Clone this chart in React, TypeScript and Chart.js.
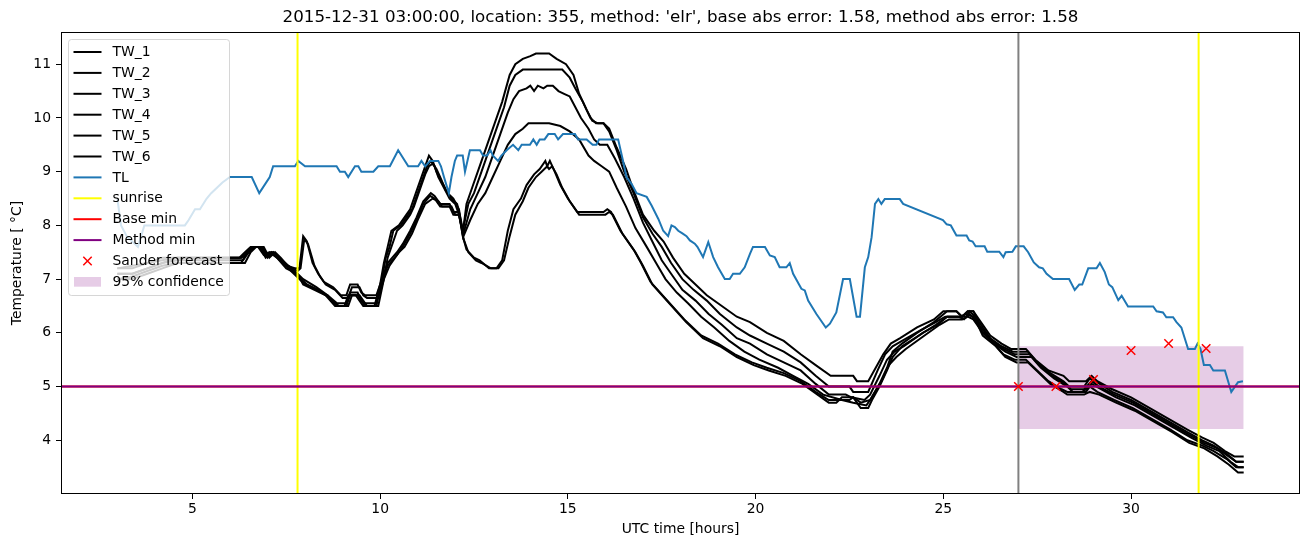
import React, { useEffect, useRef } from 'react';
import { Chart, registerables } from 'chart.js';

Chart.register(...registerables);
Chart.defaults.font.family = "'DejaVu Sans', sans-serif";

const TITLE = "2015-12-31 03:00:00, location: 355, method: 'elr', base abs error: 1.58, method abs error: 1.58";
const X_LABEL = 'UTC time [hours]';
const Y_LABEL = 'Temperature [ °C]';

const X_MIN = 1.5;
const X_MAX = 34.5;
const Y_MIN = 3.0;
const Y_MAX = 11.6;
const X_TICKS = [5, 10, 15, 20, 25, 30];
const Y_TICKS = [4, 5, 6, 7, 8, 9, 10, 11];

const SUNRISE_X = [7.8, 31.8];
const FORECAST_START_X = 27.0;
const BASE_MIN = 5.0;
const METHOD_MIN = 5.0;
const SANDER_X = [27, 28, 29, 30, 31, 32];
const SANDER_Y = [5.0, 5.0, 5.13, 5.67, 5.8, 5.71];
const CONF_X = [27, 33];
const CONF_LOW = 4.21;
const CONF_HIGH = 5.75;

type P = [number, number][];

const TW_1: P = [[3,7.0],[3.4,7.0],[3.8,7.1],[4.2,7.2],[4.6,7.3],[6.3,7.3],[6.45,7.5],[6.6,7.6],[6.8,7.6],[6.95,7.4],[7.1,7.5],[7.25,7.4],[7.5,7.2],[7.8,7.1],[7.95,6.9],[8.25,6.8],[8.55,6.7],[8.8,6.5],[9.05,6.5],[9.15,6.7],[9.35,6.7],[9.45,6.6],[9.55,6.5],[9.85,6.5],[10.0,6.9],[10.1,7.3],[10.2,7.6],[10.3,7.9],[10.5,8.0],[10.7,8.2],[10.8,8.3],[10.95,8.6],[11.1,8.9],[11.2,9.1],[11.3,9.3],[11.4,9.2],[11.5,9.0],[11.65,8.8],[11.8,8.6],[11.95,8.5],[12.1,8.3],[12.2,7.85],[12.3,8.4],[12.45,8.7],[12.65,9.1],[12.85,9.5],[13.05,9.9],[13.25,10.3],[13.45,10.8],[13.6,11.0],[13.8,11.1],[14.0,11.15],[14.15,11.2],[14.5,11.2],[14.7,11.1],[14.95,11.0],[15.15,10.8],[15.3,10.45],[15.5,10.15],[15.65,9.95],[15.8,9.9],[15.95,9.9],[16.1,9.8],[16.3,9.45],[16.55,9.05],[16.75,8.65],[17.0,8.2],[17.3,7.9],[17.55,7.7],[17.8,7.4],[18.1,7.1],[18.4,6.9],[18.7,6.7],[19.1,6.5],[19.5,6.3],[19.85,6.2],[20.3,6.0],[20.75,5.85],[21.2,5.6],[21.6,5.4],[22.0,5.2],[22.6,5.2],[22.7,5.1],[23.0,5.1],[23.2,5.35],[23.4,5.6],[23.6,5.8],[23.85,5.9],[24.3,6.1],[24.75,6.25],[25.0,6.4],[25.35,6.4],[25.5,6.3],[25.65,6.4],[25.8,6.4],[26.0,6.2],[26.25,5.95],[26.55,5.8],[26.8,5.7],[27.2,5.7],[27.45,5.5],[27.8,5.3],[28.2,5.2],[28.35,5.1],[28.8,5.1],[28.95,5.2],[29.1,5.1],[29.5,4.95],[30.0,4.8],[30.5,4.6],[31.0,4.4],[31.5,4.2],[31.9,4.05],[32.2,3.95],[32.5,3.8],[32.75,3.7],[33.0,3.7]];

const TW_2: P = [[3,7.1],[3.4,7.1],[3.8,7.2],[4.2,7.3],[4.6,7.35],[6.35,7.35],[6.5,7.5],[6.65,7.6],[6.85,7.6],[7.0,7.4],[7.15,7.5],[7.3,7.4],[7.55,7.2],[7.85,7.0],[8.0,6.9],[8.3,6.8],[8.6,6.7],[8.85,6.5],[9.1,6.5],[9.2,6.7],[9.4,6.7],[9.5,6.6],[9.6,6.5],[9.9,6.5],[10.05,7.0],[10.15,7.4],[10.25,7.6],[10.35,7.9],[10.55,8.0],[10.75,8.2],[10.85,8.3],[11.0,8.6],[11.15,8.9],[11.25,9.1],[11.35,9.2],[11.45,9.1],[11.55,8.9],[11.7,8.7],[11.85,8.5],[12.0,8.4],[12.1,8.2],[12.2,7.9],[12.35,8.4],[12.5,8.6],[12.7,9.0],[12.9,9.4],[13.1,9.8],[13.3,10.2],[13.45,10.6],[13.6,10.8],[13.8,10.9],[14.6,10.9],[14.85,10.9],[15.05,10.75],[15.2,10.55],[15.4,10.3],[15.6,10.0],[15.75,9.9],[15.95,9.9],[16.1,9.75],[16.3,9.4],[16.5,9.0],[16.75,8.6],[17.0,8.15],[17.25,7.85],[17.5,7.6],[17.75,7.3],[18.05,7.0],[18.35,6.8],[18.7,6.6],[19.05,6.35],[19.5,6.1],[19.85,5.95],[20.3,5.8],[20.75,5.65],[21.2,5.45],[21.6,5.2],[21.95,5.0],[22.5,5.0],[22.6,4.9],[23.0,4.9],[23.25,5.3],[23.45,5.6],[23.65,5.75],[23.9,5.85],[24.4,6.05],[24.8,6.2],[25.05,6.3],[25.5,6.3],[25.65,6.4],[25.8,6.4],[25.95,6.2],[26.25,5.9],[26.55,5.75],[26.85,5.65],[27.25,5.65],[27.5,5.45],[27.85,5.25],[28.2,5.1],[28.35,5.0],[28.75,5.0],[28.9,5.15],[29.05,5.1],[29.5,4.9],[30.0,4.75],[30.5,4.55],[31.0,4.35],[31.5,4.15],[31.9,4.0],[32.2,3.9],[32.55,3.75],[32.8,3.6],[33.0,3.6]];

const TW_3: P = [[3,7.0],[3.4,7.05],[3.8,7.15],[4.2,7.25],[4.6,7.3],[6.4,7.3],[6.55,7.5],[6.7,7.6],[6.9,7.6],[7.05,7.4],[7.2,7.5],[7.35,7.4],[7.6,7.2],[7.9,7.0],[8.05,6.9],[8.35,6.8],[8.65,6.65],[8.9,6.5],[9.15,6.5],[9.25,6.7],[9.45,6.7],[9.55,6.6],[9.65,6.5],[9.95,6.5],[10.1,7.0],[10.2,7.4],[10.35,7.7],[10.45,7.9],[10.6,8.0],[10.8,8.2],[10.9,8.35],[11.05,8.65],[11.2,8.95],[11.3,9.1],[11.4,9.15],[11.5,9.05],[11.6,8.9],[11.75,8.65],[11.9,8.5],[12.05,8.4],[12.15,8.1],[12.22,7.85],[12.4,8.3],[12.6,8.6],[12.8,8.9],[13.0,9.3],[13.2,9.7],[13.4,10.1],[13.55,10.35],[13.7,10.5],[13.9,10.55],[14.0,10.6],[14.1,10.5],[14.2,10.6],[14.35,10.55],[14.45,10.6],[14.6,10.6],[14.75,10.5],[14.9,10.45],[15.05,10.4],[15.2,10.2],[15.35,10.0],[15.55,9.8],[15.7,9.6],[15.85,9.5],[16.05,9.5],[16.25,9.25],[16.5,8.9],[16.75,8.5],[17.0,8.05],[17.25,7.7],[17.5,7.35],[17.75,7.1],[18.05,6.8],[18.4,6.6],[18.75,6.35],[19.1,6.15],[19.5,5.9],[19.85,5.8],[20.3,5.6],[20.75,5.45],[21.2,5.3],[21.6,5.05],[21.95,4.85],[22.4,4.85],[22.55,4.8],[22.9,4.75],[23.05,4.85],[23.3,5.2],[23.5,5.5],[23.7,5.65],[23.95,5.75],[24.45,6.0],[24.85,6.15],[25.1,6.3],[25.45,6.3],[25.6,6.35],[25.8,6.3],[26.0,6.1],[26.3,5.85],[26.6,5.7],[26.9,5.6],[27.3,5.6],[27.55,5.4],[27.9,5.2],[28.25,5.05],[28.4,4.95],[28.75,4.95],[28.95,5.1],[29.15,5.0],[29.55,4.85],[30.05,4.7],[30.55,4.5],[31.05,4.3],[31.55,4.1],[31.95,3.95],[32.3,3.85],[32.6,3.7],[32.8,3.6],[33.0,3.6]];

const TW_4: P = [[3,7.1],[3.4,7.1],[3.8,7.2],[4.2,7.3],[4.6,7.4],[6.3,7.4],[6.5,7.5],[6.65,7.6],[6.85,7.6],[7.0,7.45],[7.15,7.5],[7.3,7.4],[7.55,7.25],[7.8,7.1],[7.95,7.0],[8.3,6.85],[8.6,6.7],[8.85,6.55],[9.1,6.55],[9.2,6.75],[9.4,6.75],[9.5,6.6],[9.6,6.55],[9.9,6.55],[10.05,6.95],[10.2,7.25],[10.45,7.45],[10.6,7.6],[10.8,7.85],[10.97,8.1],[11.15,8.4],[11.33,8.55],[11.45,8.5],[11.6,8.35],[11.85,8.35],[11.95,8.2],[12.1,8.2],[12.22,7.8],[12.4,8.1],[12.6,8.4],[12.8,8.6],[13.0,8.9],[13.2,9.2],[13.4,9.5],[13.6,9.7],[13.8,9.8],[13.95,9.9],[14.5,9.9],[14.8,9.85],[15.05,9.75],[15.3,9.6],[15.55,9.3],[15.7,9.2],[15.9,9.1],[16.1,9.0],[16.3,8.7],[16.55,8.35],[16.8,7.95],[17.1,7.6],[17.35,7.3],[17.6,7.0],[17.9,6.75],[18.2,6.55],[18.55,6.3],[18.9,6.1],[19.3,5.85],[19.7,5.65],[20.1,5.5],[20.6,5.35],[21.0,5.2],[21.4,5.05],[21.8,4.85],[22.3,4.75],[22.6,4.7],[22.95,4.65],[23.1,4.8],[23.35,5.1],[23.55,5.4],[23.75,5.55],[24.0,5.7],[24.5,5.95],[24.9,6.15],[25.15,6.25],[25.5,6.25],[25.65,6.3],[25.8,6.25],[26.0,6.05],[26.35,5.8],[26.65,5.65],[26.95,5.55],[27.35,5.55],[27.6,5.35],[27.95,5.15],[28.3,5.0],[28.45,4.9],[28.8,4.9],[28.95,5.05],[29.2,4.95],[29.6,4.8],[30.1,4.65],[30.6,4.45],[31.1,4.25],[31.6,4.05],[32.0,3.9],[32.35,3.8],[32.65,3.6],[32.85,3.5],[33.0,3.5]];

const TW_5: P = [[3,7.2],[3.4,7.2],[3.8,7.3],[4.2,7.35],[4.6,7.4],[6.25,7.4],[6.4,7.5],[6.55,7.6],[6.75,7.6],[6.9,7.45],[7.05,7.5],[7.25,7.4],[7.5,7.25],[7.75,7.2],[7.85,7.2],[7.95,7.8],[8.05,7.7],[8.2,7.3],[8.35,7.1],[8.5,6.95],[8.75,6.85],[8.95,6.7],[9.1,6.7],[9.2,6.9],[9.4,6.9],[9.5,6.75],[9.6,6.7],[9.9,6.7],[10.05,7.0],[10.2,7.3],[10.45,7.5],[10.6,7.65],[10.8,7.9],[10.97,8.15],[11.15,8.45],[11.35,8.6],[11.45,8.55],[11.6,8.4],[11.85,8.4],[11.95,8.25],[12.1,8.25],[12.2,7.8],[12.3,7.55],[12.5,7.4],[12.65,7.35],[12.9,7.2],[13.1,7.2],[13.25,7.35],[13.4,7.9],[13.55,8.3],[13.75,8.5],[13.9,8.75],[14.1,8.95],[14.25,9.05],[14.4,9.2],[14.45,9.1],[14.52,9.2],[14.65,9.0],[14.8,8.75],[15.0,8.5],[15.25,8.25],[15.95,8.25],[16.05,8.3],[16.15,8.25],[16.4,7.9],[16.75,7.55],[16.95,7.3],[17.2,6.95],[17.65,6.6],[18.1,6.25],[18.55,5.95],[19.0,5.8],[19.45,5.6],[19.9,5.45],[20.3,5.35],[20.75,5.25],[21.2,5.1],[21.6,4.9],[21.95,4.75],[22.5,4.75],[22.6,4.8],[22.8,4.7],[23.05,4.75],[23.3,5.05],[23.5,5.35],[23.65,5.65],[23.9,5.8],[24.3,6.0],[24.75,6.2],[25.1,6.4],[25.35,6.4],[25.5,6.3],[25.6,6.3],[25.7,6.4],[25.85,6.3],[26.05,6.0],[26.35,5.8],[26.6,5.6],[26.9,5.5],[27.2,5.5],[27.5,5.3],[27.8,5.1],[28.15,4.95],[28.3,4.9],[28.7,4.9],[28.9,5.0],[29.1,4.9],[29.55,4.75],[30.05,4.6],[30.55,4.4],[31.05,4.2],[31.5,4.0],[31.9,3.9],[32.2,3.8],[32.55,3.65],[32.8,3.5],[33.0,3.5]];

const TW_6: P = [[3,7.2],[3.4,7.25],[3.8,7.3],[4.2,7.4],[4.6,7.4],[6.3,7.4],[6.45,7.5],[6.6,7.6],[6.8,7.6],[6.95,7.45],[7.1,7.5],[7.3,7.4],[7.55,7.25],[7.8,7.15],[7.88,7.2],[7.98,7.75],[8.08,7.65],[8.25,7.25],[8.4,7.05],[8.55,6.9],[8.8,6.8],[9.0,6.65],[9.15,6.65],[9.25,6.85],[9.45,6.85],[9.55,6.7],[9.65,6.65],[9.95,6.65],[10.1,7.0],[10.25,7.25],[10.5,7.5],[10.65,7.6],[10.85,7.85],[11.0,8.1],[11.2,8.4],[11.4,8.5],[11.55,8.45],[11.65,8.35],[11.9,8.35],[12.0,8.2],[12.1,8.2],[12.22,7.75],[12.35,7.5],[12.55,7.35],[12.7,7.3],[12.95,7.2],[13.15,7.2],[13.3,7.35],[13.45,7.8],[13.6,8.2],[13.8,8.45],[13.95,8.7],[14.15,8.9],[14.3,9.0],[14.45,9.1],[14.5,9.05],[14.58,9.1],[14.7,8.95],[14.85,8.7],[15.05,8.45],[15.3,8.2],[16.0,8.2],[16.1,8.25],[16.2,8.2],[16.45,7.85],[16.8,7.5],[17.0,7.25],[17.25,6.9],[17.7,6.55],[18.15,6.2],[18.6,5.9],[19.05,5.75],[19.5,5.55],[19.95,5.4],[20.35,5.3],[20.8,5.2],[21.25,5.05],[21.65,4.85],[21.95,4.7],[22.15,4.7],[22.3,4.8],[22.6,4.8],[22.8,4.6],[23.0,4.6],[23.1,4.75],[23.3,5.0],[23.5,5.3],[23.65,5.55],[23.9,5.75],[24.35,5.95],[24.8,6.15],[25.1,6.3],[25.4,6.3],[25.55,6.25],[25.7,6.35],[25.85,6.25],[26.05,5.95],[26.4,5.75],[26.65,5.55],[26.95,5.45],[27.25,5.45],[27.55,5.25],[27.85,5.05],[28.2,4.9],[28.3,4.85],[28.75,4.85],[28.9,4.9],[29.15,4.85],[29.6,4.7],[30.1,4.55],[30.6,4.35],[31.1,4.15],[31.55,3.95],[31.95,3.85],[32.3,3.7],[32.6,3.55],[32.85,3.4],[33.0,3.4]];

const TL: P = [[3.0,8.5],[3.1,8.0],[3.25,7.8],[3.55,7.6],[3.72,8.0],[4.5,8.0],[4.8,8.0],[4.9,8.1],[5.07,8.3],[5.2,8.3],[5.38,8.5],[5.5,8.6],[5.8,8.8],[6.0,8.9],[6.58,8.9],[6.78,8.6],[7.06,8.9],[7.15,9.1],[7.73,9.1],[7.82,9.2],[8.0,9.1],[8.84,9.1],[8.93,9.0],[9.06,9.0],[9.15,8.9],[9.33,9.1],[9.42,9.1],[9.5,9.0],[9.82,9.0],[9.95,9.1],[10.26,9.1],[10.48,9.4],[10.75,9.1],[11.01,9.1],[11.1,9.2],[11.2,9.1],[11.33,9.2],[11.55,9.2],[11.62,9.1],[11.7,8.9],[11.83,8.6],[11.9,8.9],[11.99,9.2],[12.05,9.3],[12.2,9.3],[12.26,9.0],[12.39,9.4],[12.66,9.4],[12.74,9.3],[12.85,9.3],[12.94,9.4],[13.0,9.3],[13.14,9.2],[13.23,9.3],[13.37,9.4],[13.54,9.5],[13.68,9.4],[13.77,9.5],[13.99,9.5],[14.08,9.6],[14.17,9.5],[14.25,9.6],[14.38,9.6],[14.48,9.7],[14.65,9.7],[14.74,9.6],[14.87,9.7],[15.19,9.7],[15.27,9.6],[15.5,9.6],[15.66,9.5],[15.76,9.5],[15.83,9.6],[16.34,9.6],[16.47,9.2],[16.56,8.9],[16.7,8.77],[16.83,8.6],[17.1,8.53],[17.23,8.37],[17.41,8.12],[17.54,7.9],[17.67,7.8],[17.76,8.0],[17.85,7.97],[17.94,7.9],[18.05,7.85],[18.16,7.8],[18.25,7.72],[18.38,7.66],[18.45,7.6],[18.6,7.41],[18.74,7.69],[18.87,7.41],[19.0,7.22],[19.18,7.0],[19.31,7.0],[19.4,7.1],[19.58,7.1],[19.71,7.22],[19.85,7.47],[19.93,7.6],[20.25,7.6],[20.38,7.44],[20.51,7.41],[20.64,7.22],[20.82,7.22],[20.91,7.3],[21.0,7.1],[21.22,6.82],[21.31,6.79],[21.4,6.6],[21.62,6.35],[21.87,6.1],[21.98,6.17],[22.15,6.38],[22.33,7.0],[22.51,7.0],[22.69,6.3],[22.78,6.3],[22.91,7.22],[23.0,7.41],[23.09,7.78],[23.18,8.4],[23.27,8.49],[23.35,8.4],[23.44,8.49],[23.84,8.49],[23.93,8.4],[24.99,8.1],[25.09,8.02],[25.2,8.0],[25.35,7.81],[25.62,7.81],[25.69,7.72],[25.78,7.7],[25.86,7.61],[26.1,7.61],[26.17,7.51],[26.49,7.51],[26.6,7.41],[26.66,7.5],[26.84,7.51],[26.93,7.61],[27.14,7.61],[27.26,7.5],[27.41,7.31],[27.55,7.22],[27.65,7.2],[27.75,7.1],[27.92,7.0],[28.35,7.0],[28.5,6.8],[28.62,6.9],[28.7,6.9],[28.86,7.2],[29.08,7.2],[29.17,7.3],[29.3,7.13],[29.41,6.9],[29.5,6.85],[29.66,6.61],[29.75,6.69],[29.92,6.49],[30.59,6.49],[30.68,6.4],[30.85,6.38],[30.94,6.29],[31.12,6.29],[31.21,6.2],[31.34,6.1],[31.52,5.7],[31.7,5.7],[31.77,5.8],[31.85,5.7],[31.94,5.4],[32.1,5.4],[32.19,5.3],[32.5,5.3],[32.67,4.9],[32.85,5.08],[32.98,5.1]];

const TW_SERIES = [TW_1, TW_2, TW_3, TW_4, TW_5, TW_6];
const TW_LABELS = ['TW_1', 'TW_2', 'TW_3', 'TW_4', 'TW_5', 'TW_6'];

const TL_COLOR = '#1f77b4';
const SUN_COLOR = '#ffff00';
const BASE_COLOR = '#ff0000';
const METHOD_COLOR = '#800080';
const CONF_COLOR = 'rgba(128,0,128,0.2)';
const FONT = 13.9;
const TITLE_FONT = 16.7;

const LEGEND = [
  ...TW_LABELS.map((l) => ({ label: l, kind: 'line', color: '#000000' })),
  { label: 'TL', kind: 'line', color: TL_COLOR },
  { label: 'sunrise', kind: 'line', color: SUN_COLOR },
  { label: 'Base min', kind: 'line', color: BASE_COLOR },
  { label: 'Method min', kind: 'line', color: METHOD_COLOR },
  { label: 'Sander forecast', kind: 'marker', color: '#ff0000' },
  { label: '95% confidence', kind: 'patch', color: CONF_COLOR },
];

const pts = (a: P) => a.map(([x, y]) => ({ x, y }));

const titlePlugin = {
  id: 'axesTitle',
  afterDraw(chart: any) {
    const { ctx, chartArea } = chart;
    ctx.save();
    ctx.font = `${TITLE_FONT}px 'DejaVu Sans', sans-serif`;
    ctx.fillStyle = '#000';
    ctx.textAlign = 'center';
    ctx.textBaseline = 'middle';
    ctx.fillText(TITLE, (chartArea.left + chartArea.right) / 2, chartArea.top - 14);
    ctx.restore();
  },
};

const spinesPlugin = {
  id: 'spines',
  afterDatasetsDraw(chart: any) {
    const { ctx, chartArea } = chart;
    const l = Math.round(chartArea.left) + 0.5;
    const t = Math.round(chartArea.top) + 0.5;
    const r = Math.round(chartArea.right) - 0.5;
    const b = Math.round(chartArea.bottom) - 0.5;
    ctx.save();
    ctx.strokeStyle = '#000';
    ctx.lineWidth = 1;
    ctx.strokeRect(l, t, r - l, b - t);
    ctx.restore();
  },
};

const legendPlugin = {
  id: 'mplLegend',
  afterDraw(chart: any) {
    const { ctx, chartArea } = chart;
    const bx = chartArea.left + 7.5;
    const by = chartArea.top + 7.5;
    const bw = 161;
    const bh = 256;
    ctx.save();
    ctx.beginPath();
    ctx.roundRect(bx, by, bw, bh, 3);
    ctx.fillStyle = 'rgba(255,255,255,0.8)';
    ctx.fill();
    ctx.strokeStyle = 'rgba(204,204,204,0.8)';
    ctx.lineWidth = 1;
    ctx.stroke();
    ctx.font = `${FONT}px 'DejaVu Sans', sans-serif`;
    ctx.textBaseline = 'middle';
    ctx.textAlign = 'left';
    const step = 20.9;
    LEGEND.forEach((it, i) => {
      const cy = by + 12.5 + i * step;
      const hx0 = bx + 5;
      const hx1 = bx + 33;
      if (it.kind === 'line') {
        ctx.beginPath();
        ctx.moveTo(hx0, cy);
        ctx.lineTo(hx1, cy);
        ctx.strokeStyle = it.color;
        ctx.lineWidth = 2;
        ctx.stroke();
      } else if (it.kind === 'marker') {
        const cx = (hx0 + hx1) / 2;
        const d = 4.2;
        ctx.beginPath();
        ctx.moveTo(cx - d, cy - d);
        ctx.lineTo(cx + d, cy + d);
        ctx.moveTo(cx - d, cy + d);
        ctx.lineTo(cx + d, cy - d);
        ctx.strokeStyle = it.color;
        ctx.lineWidth = 1.5;
        ctx.stroke();
      } else {
        ctx.fillStyle = it.color;
        ctx.fillRect(hx0 + 0.5, cy - 4.9, hx1 - hx0 - 1, 9.7);
      }
      ctx.fillStyle = '#000';
      ctx.fillText(it.label, bx + 44, cy + 0.5);
    });
    ctx.restore();
  },
};

export default function App() {
  const ref = useRef<HTMLCanvasElement | null>(null);
  useEffect(() => {
    if (!ref.current) return;
    const lineDs = (label: string, data: any[], color: string, order: number, extra: any = {}) => ({
      type: 'line',
      label,
      data,
      borderColor: color,
      backgroundColor: color,
      borderWidth: 2,
      pointRadius: 0,
      tension: 0,
      fill: false,
      order,
      ...extra,
    });
    const datasets: any[] = [
      ...TW_SERIES.map((s, i) => lineDs(TW_LABELS[i], pts(s), '#000000', 10)),
      lineDs('TL', pts(TL), TL_COLOR, 9),
      ...SUNRISE_X.map((x) =>
        lineDs('sunrise', [{ x, y: Y_MIN - 1 }, { x, y: Y_MAX + 1 }], SUN_COLOR, 8, { clip: 0 })
      ),
      lineDs('forecast start', [{ x: FORECAST_START_X, y: Y_MIN - 1 }, { x: FORECAST_START_X, y: Y_MAX + 1 }], '#808080', 8, { clip: 0 }),
      lineDs('Base min', [{ x: X_MIN - 5, y: BASE_MIN }, { x: X_MAX + 5, y: BASE_MIN }], BASE_COLOR, 7, { clip: 0 }),
      lineDs('Method min', [{ x: X_MIN - 5, y: METHOD_MIN }, { x: X_MAX + 5, y: METHOD_MIN }], METHOD_COLOR, 6, { clip: 0 }),
      {
        type: 'scatter',
        label: 'Sander forecast',
        data: SANDER_X.map((x, i) => ({ x, y: SANDER_Y[i] })),
        showLine: false,
        pointStyle: 'crossRot',
        pointRadius: 6,
        borderColor: '#ff0000',
        backgroundColor: '#ff0000',
        borderWidth: 1.5,
        order: 5,
      },
      {
        type: 'line',
        label: '95% confidence',
        data: CONF_X.map((x) => ({ x, y: CONF_HIGH })),
        borderWidth: 0,
        borderColor: 'rgba(0,0,0,0)',
        backgroundColor: CONF_COLOR,
        pointRadius: 0,
        fill: { value: CONF_LOW },
        order: 20,
      },
    ];
    const chart = new Chart(ref.current, {
      type: 'line',
      data: { datasets },
      plugins: [spinesPlugin, legendPlugin, titlePlugin],
      options: {
        animation: false,
        responsive: false,
        devicePixelRatio: 1,
        events: [],
        layout: { padding: { left: 0, right: 11, top: 32, bottom: 0 } },
        plugins: {
          legend: { display: false },
          tooltip: { enabled: false },
          title: { display: false },
        },
        scales: {
          x: {
            type: 'linear',
            min: X_MIN,
            max: X_MAX,
            afterBuildTicks: (s: any) => {
              s.ticks = X_TICKS.map((v) => ({ value: v }));
            },
            afterFit: (s: any) => {
              s.height = 53;
            },
            grid: { display: true, drawOnChartArea: false, drawTicks: true, tickLength: 5, tickColor: '#000', tickWidth: 1 },
            border: { display: false },
            ticks: { color: '#000', font: { size: FONT }, padding: 2, maxRotation: 0, autoSkip: false, callback: (v: any) => String(v) },
            title: { display: true, text: X_LABEL, color: '#000', font: { size: FONT }, padding: { top: 0, bottom: 9.5 } },
          },
          y: {
            type: 'linear',
            min: Y_MIN,
            max: Y_MAX,
            afterBuildTicks: (s: any) => {
              s.ticks = Y_TICKS.map((v) => ({ value: v }));
            },
            afterFit: (s: any) => {
              s.width = 61;
            },
            grid: { display: true, drawOnChartArea: false, drawTicks: true, tickLength: 5, tickColor: '#000', tickWidth: 1 },
            border: { display: false },
            ticks: { color: '#000', font: { size: FONT }, padding: 5, autoSkip: false, callback: (v: any) => String(v) },
            title: { display: true, text: Y_LABEL, color: '#000', font: { size: FONT }, padding: { top: 9.5, bottom: 0 } },
          },
        },
      } as any,
    });
    return () => chart.destroy();
  }, []);
  return (
    <div style={{ position: 'absolute', left: 0, top: 0, width: 1311, height: 547, background: '#fff' }}>
      <canvas ref={ref} width={1311} height={547} style={{ display: 'block', width: 1311, height: 547 }} />
    </div>
  );
}
